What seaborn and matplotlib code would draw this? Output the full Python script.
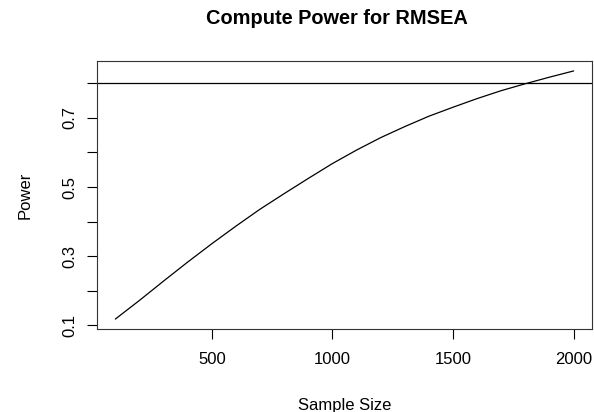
import matplotlib
matplotlib.use("Agg")
import matplotlib.pyplot as plt
import seaborn as sns
import pandas as pd

sample_size = [100, 200, 300, 400, 500, 600, 700, 800, 900, 1000,
               1100, 1200, 1300, 1400, 1500, 1600, 1700, 1800, 1900, 2000]
power = [0.118, 0.172, 0.228, 0.283, 0.336, 0.387, 0.436, 0.481, 0.525, 0.568,
         0.607, 0.643, 0.675, 0.705, 0.731, 0.756, 0.779, 0.799, 0.818, 0.836]
x_ticks = [500, 1000, 1500, 2000]
y_ticks = [0.1, 0.2, 0.3, 0.4, 0.5, 0.6, 0.7, 0.8]
y_labels = ["0.1", "", "0.3", "", "0.5", "", "0.7", ""]
target_power = 0.8

sns.set_style("white")
plt.rcParams['font.family'] = ['Liberation Sans', 'DejaVu Sans']
plt.rcParams['text.color'] = 'black'
plt.rcParams['axes.labelcolor'] = 'black'
plt.rcParams['xtick.color'] = 'black'
plt.rcParams['ytick.color'] = 'black'

df = pd.DataFrame({"Sample Size": sample_size, "Power": power})

fig = plt.figure(figsize=(5.94, 4.12), dpi=100)
ax = fig.add_axes([97/594, 1 - 329/412, 495/594, 268/412])
sns.lineplot(data=df, x="Sample Size", y="Power", ax=ax, color="black", linewidth=0.9)
ax.axhline(target_power, color="black", linewidth=0.9)

xr = max(sample_size) - min(sample_size)
ax.set_xlim(min(sample_size) - 0.04 * xr, max(sample_size) + 0.04 * xr)
yr = max(power) - min(power)
ax.set_ylim(min(power) - 0.04 * yr, max(power) + 0.04 * yr)

ax.set_xticks(x_ticks)
ax.set_xticklabels([str(v) for v in x_ticks], fontsize=12)
ax.set_yticks(y_ticks)
ax.set_yticklabels(y_labels, fontsize=12, rotation=90, va="center")
ax.tick_params(axis="both", direction="out", length=7, width=0.8,
               colors="black", bottom=True, left=True)
for t in ax.xaxis.get_major_ticks():
    t.tick1line.set_color("#555555")
for t in ax.yaxis.get_major_ticks():
    t.tick1line.set_color("#555555")
ax.tick_params(axis="x", pad=9.4)
ax.tick_params(axis="y", pad=7.2)
for s in ax.spines.values():
    s.set_color("#333333")
    s.set_linewidth(0.8)

ax.set_xlabel("Sample Size", fontsize=12, labelpad=22.5)
ax.set_ylabel("Power", fontsize=12, labelpad=21.5)
fig.text(337/594, 1 - 19/412, "Compute Power for RMSEA",
         ha="center", va="center", fontsize=14.4, fontweight="bold")

fig.savefig("out.png", dpi=100)
